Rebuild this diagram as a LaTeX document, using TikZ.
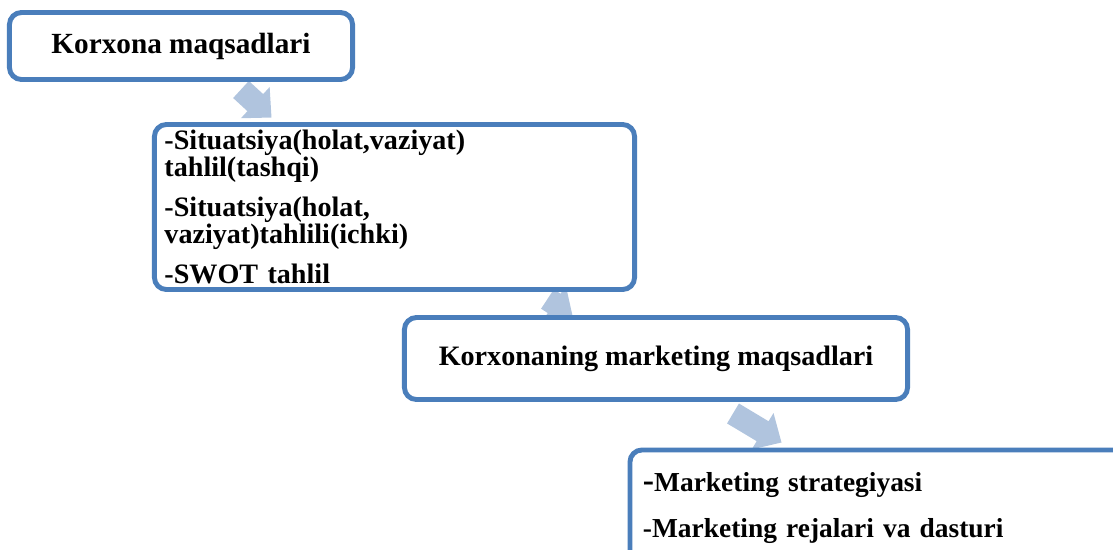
\documentclass[tikz,border=0pt]{standalone}
\usepackage{fontspec}
\setmainfont{Liberation Serif}
\usepackage{xcolor}
\usetikzlibrary{calc,backgrounds}

\definecolor{boxblue}{RGB}{74,126,187}
\definecolor{arrowblue}{RGB}{176,196,222}

% fat block arrow from tail #1 to tip #2
\newcommand{\fatarrow}[2]{%
  \path #1 coordinate (faA) #2 coordinate (faB);
  \path ($(faB)!0.55cm!(faA)$) coordinate (faC);
  \fill[arrowblue] ($(faA)!0.29cm!90:(faB)$) -- ($(faC)!0.29cm!90:(faB)$)
    -- ($(faC)!0.53cm!90:(faB)$) -- (faB) -- ($(faC)!0.53cm!-90:(faB)$)
    -- ($(faC)!0.29cm!-90:(faB)$) -- ($(faA)!0.29cm!-90:(faB)$) -- cycle;
}

\begin{document}
\begin{tikzpicture}[x=0.025cm, y=-0.025cm,
  font=\fontsize{20pt}{19.2pt}\selectfont\bfseries,
  goalbox/.style={draw=boxblue, line width=3.5pt, rounded corners=0.3cm, fill=white, inner sep=0pt}]

  \useasboundingbox (0,0) rectangle (1113,549);
  \clip (0,0) rectangle (1113,549);

  % Boxes
  \node[goalbox, minimum width=8.575cm, minimum height=1.675cm, font=\fontsize{20.8pt}{20pt}\selectfont\bfseries] (k1) at (181,46) {Korxona maqsadlari};
  \node[goalbox, text width=11.5cm, inner xsep=0.25cm, minimum height=4.125cm, align=left] (k2) at (394.5,207)
    {-Situatsiya(holat,vaziyat)\\ tahlil(tashqi)\\[9.3pt]
     -Situatsiya(holat,\\ vaziyat)tahlili(ichki)\\[9.3pt]
     -SWOT tahlil};
  \node[goalbox, minimum width=12.575cm, minimum height=2.05cm] (k3) at (656,358.5) {Korxonaning marketing maqsadlari};
  \node[goalbox, anchor=north west, text width=14cm, inner xsep=0.325cm, inner ysep=0.55cm, align=left,
    font=\fontsize{19.5pt}{19.2pt}\selectfont\bfseries] (k4) at (627.5,447.5)
    {{\fontsize{24pt}{19.2pt}\selectfont -}Marketing strategiyasi\\[14.2pt]
     -Marketing rejalari va dasturi};

  % Arrows behind the boxes
  \begin{scope}[on background layer]
    \fatarrow{($(k1.south)+(60,7.5)$)}{($(k2.north west)+(119.5,-4.5)$)}
    \fatarrow{($(k2.south)+(153,7)$)}{($(k3.north west)+(170.5,0.5)$)}
    \fatarrow{($(k3.south)+(77,11.5)$)}{($(k4.north west)+(154,-5)$)}
  \end{scope}
\end{tikzpicture}
\end{document}
